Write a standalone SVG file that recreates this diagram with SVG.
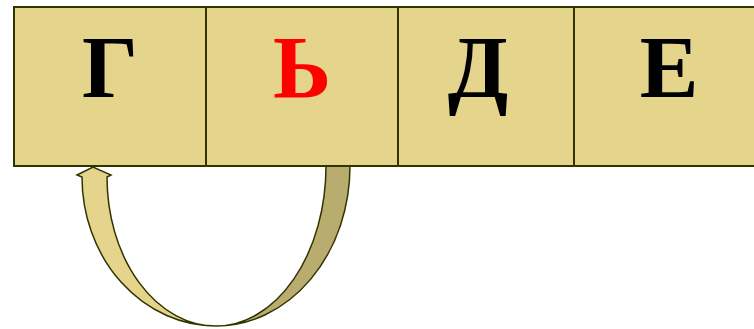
<svg xmlns="http://www.w3.org/2000/svg" width="754" height="329" viewBox="0 0 754 329">
<style>
.cell{fill:#e4d48c;stroke:#333300;stroke-width:2}
.lt{font-family:"Liberation Serif","Times New Roman",serif;font-weight:bold;font-size:88px;text-anchor:middle}
.arr{stroke:#333300;stroke-width:1.5;stroke-linejoin:miter}
</style>
<rect width="754" height="329" fill="#ffffff"/>
<g id="connectors">
<path class="arr" fill="#b8ac6e" d="M326,158 L326,166 A110 160 0 0 1 216 326 A134 160 0 0 0 350 166 L350,158 Z"/>
</g>
<g id="cell-G"><rect class="cell" x="14" y="7" width="192" height="159"/><text class="lt" x="110" y="97" fill="#000">Г</text></g>
<g id="cell-SoftSign"><rect class="cell" x="206" y="7" width="192" height="159"/><text class="lt" x="302" y="97" fill="#ff0000">Ь</text></g>
<g id="cell-D"><rect class="cell" x="398" y="7" width="176" height="159"/><text class="lt" x="478" y="97" fill="#000">Д</text></g>
<g id="cell-E"><rect class="cell" x="574" y="7" width="190" height="159"/><text class="lt" x="669" y="97" fill="#000">Е</text></g>
<g id="connectors-front">
<path class="arr" fill="#e4d48c" d="M216,326 A109 149 0 0 1 107 177 L111,175 L93,167 L77,175 L82,177 A134 149 0 0 0 216 326 Z"/>
</g>
</svg>
